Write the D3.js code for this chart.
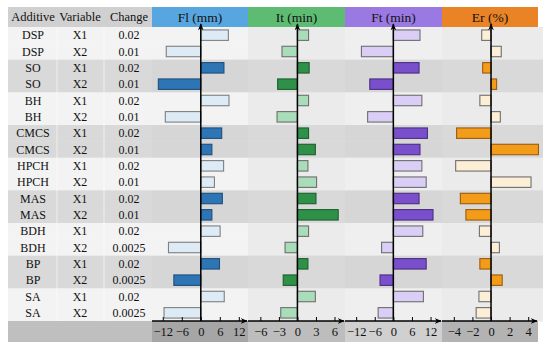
<!DOCTYPE html>
<html>
<head>
<meta charset="utf-8">
<script src="https://cdn.jsdelivr.net/npm/d3@7/dist/d3.min.js"></script>
<style>
body{margin:0;background:#fff;}
svg{display:block;}
svg text{font-family:"Liberation Serif","Times New Roman",Tinos,serif;}
</style>
</head>
<body>
<svg id="c" width="550" height="348"></svg>
<script>
const additives = ["DSP","SO","BH","CMCS","HPCH","MAS","BDH","BP","SA"];
const variables = ["X1","X2"];
const changes = ["0.02","0.01","0.02","0.01","0.02","0.01","0.02","0.01","0.02","0.01","0.02","0.01","0.02","0.0025","0.02","0.0025","0.02","0.0025"];
const flValues = [8.7,-10.9,7.3,-13.4,8.9,-11.2,6.6,3.5,7.2,4.3,6.8,3.5,6.1,-10.2,5.9,-8.5,7.4,-11.6];
const itValues = [1.8,-2.5,1.9,-3.2,1.8,-3.3,1.8,2.9,1.7,3.1,3.0,6.6,1.8,-2.0,1.7,-2.3,2.9,-2.7];
const ftValues = [8.6,-10.3,8.3,-7.6,9.2,-8.3,11.0,8.6,9.2,10.6,8.3,12.8,9.5,-3.8,10.6,-4.3,9.7,-4.9];
const erValues = [-1.0,1.1,-0.9,0.6,-1.2,1.0,-3.7,5.1,-3.8,4.3,-3.3,-2.7,-1.25,0.9,-1.2,1.2,-1.3,-1.6];
const panelTitles = ["Fl (mm)","It (min)","Ft (min)","Er (%)"];
const flTicks = [-12,-6,0,6,12];
const itTicks = [-6,-3,0,3,6];
const ftTicks = [-12,-6,0,6,12];
const erTicks = [-4,-2,0,2,4];

const FONT = "'Liberation Serif','Times New Roman',Tinos,serif";
const svg = d3.select("#c");
const rows = [];
additives.forEach(a => variables.forEach(v => rows.push({a, v})));
rows.forEach((r,i)=>{ r.change = changes[i]; r.grp = Math.floor(i/2); });

const yTop = 27, yBottom = 321;
const y = d3.scaleBand().domain(d3.range(rows.length)).range([yTop, yBottom]).paddingInner(0.36).paddingOuter(0.18);
const yRow = d3.scaleBand().domain(d3.range(rows.length)).range([yTop, yBottom]);

const panels = [
  {title: panelTitles[0], vals: flValues, ticks: flTicks, domain: [-15.4,14.9], x0:152, x1:248, head:"#58a6e0", dark:"#2e75b6", darkS:"#1f4e79", light:"#ddebf7", lightS:"#7f7f7f", bandL:"#f3f3f3", bandG:"#d6d6d6", axisBg:"#a6a6a6"},
  {title: panelTitles[1], vals: itValues, ticks: itTicks, domain: [-8.0,7.7], x0:248, x1:345, head:"#5dbb72", dark:"#2e9147", darkS:"#1e5e30", light:"#a9dcb9", lightS:"#6f6f6f", bandL:"#ebebeb", bandG:"#d9d9d9", axisBg:"#bdbdbd"},
  {title: panelTitles[2], vals: ftValues, ticks: ftTicks, domain: [-15.6,15.7], x0:345, x1:442, head:"#9b79e2", dark:"#7a4fcb", darkS:"#4b2f80", light:"#dacdf6", lightS:"#6f6f6f", bandL:"#efefef", bandG:"#d6d6d6", axisBg:"#d0d0d0"},
  {title: panelTitles[3], vals: erValues, ticks: erTicks, domain: [-5.27,5.05], x0:442, x1:538, head:"#ea8226", dark:"#f39c1a", darkS:"#9a5b10", light:"#fdefd6", lightS:"#6f6f6f", bandL:"#ebebeb", bandG:"#d9d9d9", axisBg:"#b3b3b3"}
];

const defs = svg.append("defs");
defs.append("marker").attr("id","arr").attr("viewBox","0 0 10 10").attr("refX",9).attr("refY",5)
  .attr("markerWidth",7).attr("markerHeight",7).attr("markerUnits","userSpaceOnUse").attr("orient","auto")
  .append("path").attr("d","M0,1 L10,5 L0,9 L3,5 Z").attr("fill","#000");

// table backgrounds
svg.append("rect").attr("x",8).attr("y",7).attr("width",144).attr("height",20).attr("fill","#d0d0d0");
rows.forEach((r,i)=>{
  svg.append("rect").attr("x",8).attr("y",yRow(i)).attr("width",144).attr("height",yRow.bandwidth()+0.5)
    .attr("fill", r.grp%2 ? "#d9d9d9" : "#f3f3f3");
});
svg.append("rect").attr("x",8).attr("y",yBottom).attr("width",144).attr("height",21).attr("fill","#bfbfbf");
[57,104].forEach(xx=>{
  svg.append("line").attr("x1",xx).attr("x2",xx).attr("y1",yTop).attr("y2",yBottom).attr("stroke","#fff").attr("stroke-width",1).attr("opacity",0.6);
});

const colX = [33,80,129];
const headTxt = ["Additive","Variable","Change"];
headTxt.forEach((t,k)=>{
  svg.append("text").attr("x",colX[k]).attr("y",17).attr("dy","0.35em").attr("text-anchor","middle")
    .attr("font-family",FONT).attr("font-size",12.5).attr("fill","#111").text(t);
});
rows.forEach((r,i)=>{
  const cy = yRow(i)+yRow.bandwidth()/2;
  [r.a, r.v, r.change].forEach((t,k)=>{
    svg.append("text").attr("x",colX[k]).attr("y",cy).attr("dy","0.35em").attr("text-anchor","middle")
      .attr("font-family",FONT).attr("font-size",12).attr("fill","#111").text(t);
  });
});

panels.forEach((p,pi)=>{
  const g = svg.append("g");
  const x = d3.scaleLinear().domain(p.domain).range([p.x0,p.x1]);
  const extra = pi===3 ? 5 : 0;
  g.append("rect").attr("x",p.x0).attr("y",7).attr("width",p.x1-p.x0).attr("height",20).attr("fill",p.head);
  g.append("text").attr("x",(p.x0+p.x1)/2).attr("y",17).attr("dy","0.35em").attr("text-anchor","middle")
    .attr("font-family",FONT).attr("font-size",13.5).attr("fill","#111").text(p.title);
  rows.forEach((r,i)=>{
    g.append("rect").attr("x",p.x0).attr("y",yRow(i)).attr("width",p.x1-p.x0+extra).attr("height",yRow.bandwidth()+0.5)
      .attr("fill", r.grp%2 ? p.bandG : p.bandL);
  });
  g.append("rect").attr("x",p.x0).attr("y",yBottom).attr("width",p.x1-p.x0).attr("height",21).attr("fill",p.axisBg);
  g.selectAll("rect.bar").data(p.vals).join("rect").attr("class","bar")
    .attr("x",d=>x(Math.min(0,d))).attr("width",d=>Math.abs(x(d)-x(0)))
    .attr("y",(d,i)=>y(i)).attr("height",y.bandwidth())
    .attr("fill",(d,i)=>rows[i].grp%2 ? p.dark : p.light)
    .attr("stroke",(d,i)=>rows[i].grp%2 ? p.darkS : p.lightS)
    .attr("stroke-width",1.1);
  const ax = d3.axisBottom(x).tickValues(p.ticks).tickSize(-4).tickSizeOuter(0).tickPadding(6)
    .tickFormat(d3.format("d"));
  const axg = g.append("g").attr("transform",`translate(0,${yBottom})`).call(ax);
  axg.attr("font-family",FONT).attr("font-size",12.5);
  axg.select(".domain").attr("stroke","#000").attr("stroke-width",1.5).attr("marker-end","url(#arr)")
    .attr("d",`M${p.x0},0H${p.x1-1}`);
  axg.selectAll(".tick line").attr("stroke","#000");
  axg.selectAll(".tick text").attr("fill","#111");
  g.append("line").attr("x1",x(0)).attr("x2",x(0)).attr("y1",yBottom).attr("y2",24)
    .attr("stroke","#000").attr("stroke-width",1.5).attr("marker-end","url(#arr)");
});
</script>
</body>
</html>
